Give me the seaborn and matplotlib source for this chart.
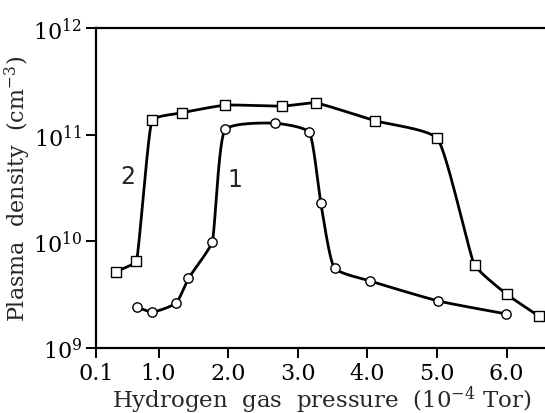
import numpy as np
import pandas as pd
import matplotlib
matplotlib.use('Agg')
import matplotlib.pyplot as plt
import seaborn as sns

# curve 1 (circles)
x1 = [0.69, 0.91, 1.25, 1.43, 1.77, 1.96, 2.67, 3.16, 3.33, 3.53, 4.04, 5.02, 5.99]
y1 = [2.42e9, 2.17e9, 2.64e9, 4.5e9, 9.8e9, 1.12e11, 1.28e11, 1.06e11, 2.3e10, 5.6e9, 4.25e9, 2.76e9, 2.09e9]
# curve 2 (squares)
x2 = [0.39, 0.68, 0.91, 1.33, 1.96, 2.78, 3.26, 4.11, 5.0, 5.54, 6.0, 6.46]
y2 = [5.2e9, 6.5e9, 1.37e11, 1.6e11, 1.89e11, 1.85e11, 1.98e11, 1.35e11, 9.3e10, 6.0e9, 3.2e9, 2.0e9]

xticks = [0.1, 1.0, 2.0, 3.0, 4.0, 5.0, 6.0]
xticklabels = ['0.1', '1.0', '2.0', '3.0', '4.0', '5.0', '6.0']
yticks = [1e9, 1e10, 1e11, 1e12]
yticklabels = ['$10^{9}$', '$10^{10}$', '$10^{11}$', '$10^{12}$']

sns.set_theme(style='white')
plt.rcParams['font.family'] = ['DejaVu Serif']
plt.rcParams['mathtext.fontset'] = 'dejavuserif'

fig = plt.figure(figsize=(5.45, 4.14), dpi=100)
ax = fig.add_axes([0.176, 0.157, 0.83, 0.773])

XS, YS = 69.3, 106.7  # px per x unit / per decade, for the smooth line


def smooth(xs, ys, k=0.2, n=30):
    # bezier through the points; handles limited by the shorter neighbour segment
    P = np.column_stack([np.array(xs) * XS, np.log10(ys) * YS])
    m = len(P)
    L = np.linalg.norm(np.diff(P, axis=0), axis=1)
    T = np.zeros_like(P)
    for i in range(m):
        a = P[i] - P[i - 1] if i > 0 else P[i + 1] - P[i]
        b = P[i + 1] - P[i] if i < m - 1 else P[i] - P[i - 1]
        d = a / np.linalg.norm(a) + b / np.linalg.norm(b)
        T[i] = d / np.linalg.norm(d)
    H = np.array([min(L[max(i - 1, 0)], L[min(i, m - 2)]) for i in range(m)]) * k
    out = []
    t = np.linspace(0, 1, n)[:, None]
    for i in range(m - 1):
        c0, c3 = P[i], P[i + 1]
        c1 = c0 + T[i] * min(H[i], L[i] * k)
        c2 = c3 - T[i + 1] * min(H[i + 1], L[i] * k)
        out.append((1 - t) ** 3 * c0 + 3 * (1 - t) ** 2 * t * c1
                   + 3 * (1 - t) * t ** 2 * c2 + t ** 3 * c3)
    c = np.vstack(out)
    return pd.DataFrame({'x': c[:, 0] / XS, 'y': 10 ** (c[:, 1] / YS)})


for xs, ys, mk in [(x1, y1, 'o'), (x2, y2, 's')]:
    sns.lineplot(data=smooth(xs, ys), x='x', y='y', sort=False, color='black',
                 lw=2.0, ax=ax, estimator=None)
    sns.scatterplot(x=xs, y=ys, marker=mk, s=45, facecolor='white',
                    edgecolor='black', linewidth=1.0, ax=ax, zorder=3)

ax.set_yscale('log')
ax.set_ylim(1e9, 1e12)
ax.set_xlim(0.1, 6.6)
ax.set_xticks(xticks)
ax.set_xticklabels(xticklabels, fontsize=16)
ax.set_yticks(yticks)
ax.set_yticklabels(yticklabels, fontsize=16)
ax.yaxis.set_minor_locator(matplotlib.ticker.NullLocator())
ax.tick_params(axis='both', direction='out', length=7, width=1.4,
               color='black', labelcolor='black',
               bottom=True, left=True, pad=3)
for s in ['left', 'bottom', 'top']:
    ax.spines[s].set_linewidth(1.6)
    ax.spines[s].set_color('black')
ax.spines['right'].set_visible(False)

ax.set_xlabel('Hydrogen  gas  pressure  (10$^{-4}$ Tor)', fontsize=16.5, labelpad=0)
ax.set_ylabel('Plasma  density  (cm$^{-3}$)', fontsize=16)
ax.yaxis.set_label_coords(-0.14, 0.5)

ax.text(0.56, 4.1e10, '2', fontsize=17, family='DejaVu Sans', ha='center', va='center')
ax.text(2.09, 3.8e10, '1', fontsize=17, family='DejaVu Sans', ha='center', va='center')

fig.savefig('out.png', dpi=100)
